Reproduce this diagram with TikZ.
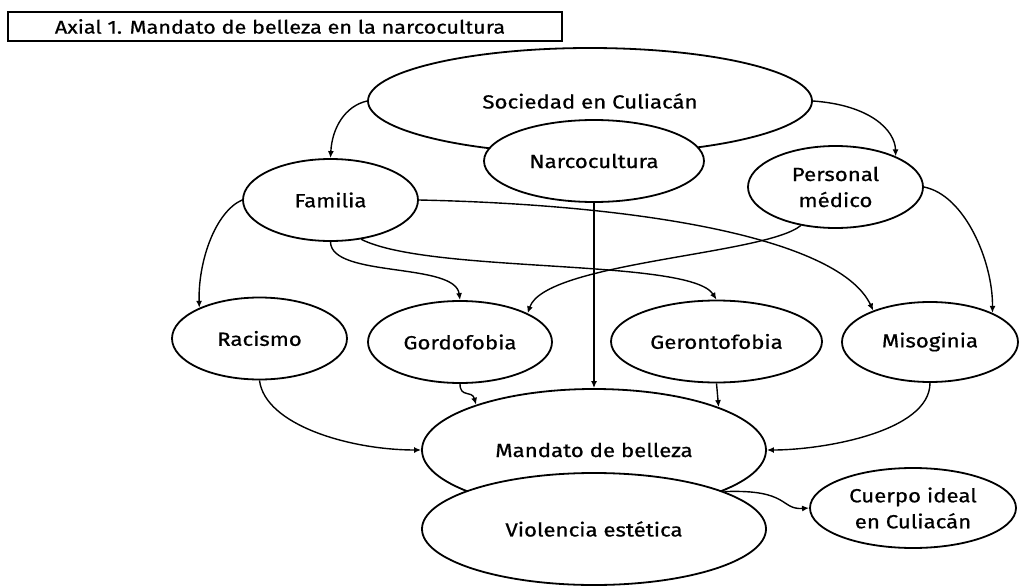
\documentclass[tikz,border=0pt]{standalone}
\usepackage{fontspec}
\setmainfont{Fira Sans}[FakeStretch=1.17,FakeBold=0.7]
\usetikzlibrary{shapes.geometric,arrows.meta}
\begin{document}
\begin{tikzpicture}[x=1pt,y=-1pt,
  oval/.style={draw=black,fill=white,ellipse,line width=1.8pt,inner sep=0pt,align=center,
    font=\fontsize{19}{26}\selectfont},
  conn/.style={draw=black,line width=1.4pt,-{Latex[length=7pt,width=6pt]}},
  titlebox/.style={draw=black,line width=1.4pt,minimum width=554pt,minimum height=29pt,inner sep=0pt,
    font=\fontsize{18.5}{22}\selectfont}]
\useasboundingbox (0,0) rectangle (1021,586);
\fill[white] (0,0) rectangle (1021,586);
\node[titlebox] (title) at (285,26.5) {\hspace*{-10pt}Axial 1. Mandato de belleza en la narcocultura};
% ellipses
\node[oval,minimum width=444pt,minimum height=106pt] (soc) at (590,101) {Sociedad en Culiacán};
\node[oval,minimum width=220pt,minimum height=82pt] (nar) at (594,161) {Narcocultura};
\node[oval,minimum width=175pt,minimum height=82pt] (fam) at (330.5,200) {Familia};
\node[oval,minimum width=175pt,minimum height=82pt] (per) at (835.5,187) {Personal\\médico};
\node[oval,minimum width=175pt,minimum height=82pt] (rac) at (259.5,338.5) {Racismo};
\node[oval,minimum width=184pt,minimum height=82pt] (gor) at (460,342) {Gordofobia};
\node[oval,minimum width=211pt,minimum height=82pt] (ger) at (716.5,341.5) {Gerontofobia};
\node[oval,minimum width=176pt,minimum height=80pt] (mis) at (930,342) {Misoginia};
\node[oval,minimum width=344pt,minimum height=122pt] (man) at (594,450) {Mandato de belleza};
\node[oval,minimum width=344pt,minimum height=112pt] (vio) at (594,529) {Violencia estética};
\node[oval,minimum width=206pt,minimum height=80pt] (cue) at (913,508) {Cuerpo ideal\\en Culiacán};
% connectors
\draw[conn] (soc.west) .. controls (345,106) and (332,128) .. (fam.north);
\draw[conn] (soc.east) .. controls (870,105) and (895,130) .. (per.27);
\draw[conn] (fam.west) .. controls (215,212) and (198,262) .. (rac.153);
\draw[conn] (fam.south) .. controls (331,278) and (455,262) .. (gor.north);
\draw[conn] (fam.-52) .. controls (430,274) and (690,258) .. (ger.north);
\draw[conn] (fam.east) .. controls (650,205) and (840,240) .. (mis.151);
\draw[conn] (per.east) .. controls (965,195) and (993,262) .. (mis.25.5);
\draw[conn] (per.-132) .. controls (765,255) and (545,262) .. (gor.23.4);
\draw[conn] (nar.south) -- (man.north);
\draw[conn] (rac.south) .. controls (265,425) and (350,450) .. (man.west);
\draw[conn] (gor.south) .. controls (460,398) and (472,390) .. (man.159.6);
\draw[conn] (ger.south) -- (man.19.4);
\draw[conn] (mis.south) .. controls (930,432) and (822,450) .. (man.east);
\draw[conn] (vio.16.2) .. controls (790,489) and (780,510) .. (cue.west);
\end{tikzpicture}
\end{document}
